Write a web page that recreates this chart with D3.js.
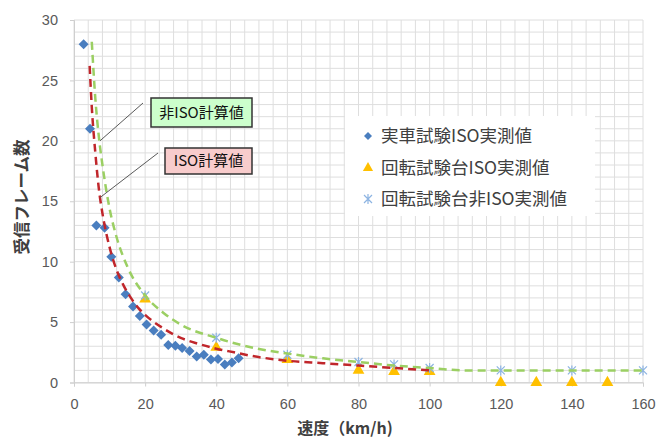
<!DOCTYPE html>
<html>
<head>
<meta charset="utf-8">
<script src="https://cdn.jsdelivr.net/npm/d3@7"></script>
<style>
  body { margin: 0; background: #fff; }
  svg text { font-family: "Noto Sans CJK JP", "Noto Sans", sans-serif; }
</style>
</head>
<body>
<div class="visualGraph"></div>
<script>
// 実車試験ISO実測値
const carSpeed = [2.7, 4.5, 6.3, 8.6, 10.5, 12.6, 14.5, 16.6, 18.5, 20.4, 22.4, 24.5, 26.5, 28.5, 30.4, 32.5, 34.5, 36.5, 38.5, 40.5, 42.4, 44.4, 46.3];
const carFrames = [28, 21, 13.0, 12.8, 10.4, 8.7, 7.3, 6.3, 5.5, 4.8, 4.3, 3.95, 3.1, 3.05, 2.85, 2.6, 2.15, 2.3, 1.9, 1.95, 1.5, 1.65, 2.0];

// 回転試験台ISO実測値
const rigIsoSpeed = [20, 40, 60, 80, 90, 100, 120, 130, 140, 150];
const rigIsoFrames = [6.9, 2.9, 1.9, 1.0, 0.9, 0.9, 0, 0, 0, 0];

// 回転試験台非ISO実測値
const rigNonIsoSpeed = [20, 40, 60, 80, 90, 100, 120, 140, 160];
const rigNonIsoFrames = [7.2, 3.7, 2.3, 1.7, 1.5, 1.2, 1.0, 1.0, 1.0];

// ISO計算値
const isoCalcSpeed = [4.4, 5, 6, 7, 8, 10, 12, 14, 16, 18, 20, 25, 30, 35, 40, 45, 50, 60, 70, 80, 90, 100];
const isoCalcFrames = [26.2, 22.8, 19, 16, 14, 11.2, 9.3, 8, 7, 6.2, 5.6, 4.5, 3.7, 3.2, 2.8, 2.5, 2.2, 1.8, 1.6, 1.4, 1.2, 1.0];

// 非ISO計算値
const nonIsoCalcSpeed = [5, 6, 7, 8, 10, 12, 15, 20, 25, 30, 40, 50, 60, 70, 80, 90, 100, 110, 120, 130, 140, 150, 160];
const nonIsoCalcFrames = [28.2, 23.5, 20.3, 18, 14.4, 12, 9.6, 7.2, 5.8, 4.8, 3.7, 2.9, 2.4, 2.0, 1.7, 1.4, 1.2, 1.0, 1.0, 1.0, 1.0, 1.0, 1.0];

const xTicks = [0, 20, 40, 60, 80, 100, 120, 140, 160];
const yTicks = [0, 5, 10, 15, 20, 25, 30];

const legendLabels = ["実車試験ISO実測値", "回転試験台ISO実測値", "回転試験台非ISO実測値"];

const width = 656, height = 439;

const svg = d3.select(".visualGraph")
    .append("svg")
    .attr("width", width)
    .attr("height", height)
    .attr("viewBox", [0, 0, width, height]);

svg.append("rect").attr("width", width).attr("height", height).attr("fill", "#fff");

const x = d3.scaleLinear().domain([0, 160]).range([74, 643]);
const y = d3.scaleLinear().domain([0, 30]).range([382.5, 20]);

// grid lines, every 4 km/h and every frame
const grid = svg.append("g");
grid.selectAll(".vminor")
    .data(d3.range(0, 161, 4))
    .join("line")
    .attr("x1", d => x(d)).attr("x2", d => x(d))
    .attr("y1", y(0)).attr("y2", y(30))
    .attr("stroke", "#dedede").attr("stroke-width", 1);
grid.selectAll(".hminor")
    .data(d3.range(0, 31, 1))
    .join("line")
    .attr("x1", x(0)).attr("x2", x(160))
    .attr("y1", d => y(d)).attr("y2", d => y(d))
    .attr("stroke", "#dedede").attr("stroke-width", 1);

// axes
const xAxis = svg.append("g")
    .attr("transform", `translate(0,${y(0)})`)
    .call(d3.axisBottom(x).tickValues(xTicks).tickSize(4).tickPadding(12));
const yAxis = svg.append("g")
    .attr("transform", `translate(${x(0)},0)`)
    .call(d3.axisLeft(y).tickValues(yTicks).tickSize(4).tickPadding(12));
[xAxis, yAxis].forEach(a => {
    a.select(".domain").attr("stroke", "#cfcfcf");
    a.selectAll(".tick line").attr("stroke", "#cfcfcf");
    a.selectAll("text")
        .attr("fill", "#595959")
        .style("font-family", "'Liberation Sans Narrow', 'Liberation Sans', sans-serif")
        .style("font-size", "14.5px");
});

// scatter series
const symbolPath = (type, size) => d3.symbol().type(type).size(size)();
const rhombus = r => `M0,${-r}L${r},0L0,${r}L${-r},0Z`;
const star = "M-4,-4L4,4M-4,4L4,-4M0,-5L0,5";

svg.append("g").selectAll("path")
    .data(d3.zip(carSpeed, carFrames))
    .join("path")
    .attr("d", rhombus(5))
    .attr("transform", d => `translate(${x(d[0])},${y(d[1])})`)
    .attr("fill", "#4a7ebf");

svg.append("g").selectAll("path")
    .data(d3.zip(rigIsoSpeed, rigIsoFrames))
    .join("path")
    .attr("d", symbolPath(d3.symbolTriangle, 60))
    .attr("transform", d => `translate(${x(d[0])},${y(d[1])})`)
    .attr("fill", "#ffc000");

svg.append("g").selectAll("path")
    .data(d3.zip(rigNonIsoSpeed, rigNonIsoFrames))
    .join("path")
    .attr("d", star)
    .attr("transform", d => `translate(${x(d[0])},${y(d[1])})`)
    .attr("fill", "none")
    .attr("stroke", "#8db4e2")
    .attr("stroke-width", 1.2);

// calculated curves
const line = d3.line().x(d => x(d[0])).y(d => y(d[1])).curve(d3.curveMonotoneX);

svg.append("path")
    .datum(d3.zip(nonIsoCalcSpeed, nonIsoCalcFrames))
    .attr("d", line)
    .attr("fill", "none")
    .attr("stroke", "#9bcf63")
    .attr("stroke-width", 2.5)
    .attr("stroke-dasharray", "8,5");

svg.append("path")
    .datum(d3.zip(isoCalcSpeed, isoCalcFrames))
    .attr("d", line)
    .attr("fill", "none")
    .attr("stroke", "#c0262b")
    .attr("stroke-width", 2.5)
    .attr("stroke-dasharray", "8,5");

// callouts
const callouts = [
    { label: "非ISO計算値", fill: "#ccffcc", box: [151, 98, 101, 29], from: [143, 103], to: [7.3, 20] },
    { label: "ISO計算値", fill: "#f8cccc", box: [165, 148, 87, 26], from: [158, 153], to: [7.3, 15.3] }
];
callouts.forEach(c => {
    svg.append("line")
        .attr("x1", c.from[0]).attr("y1", c.from[1])
        .attr("x2", x(c.to[0])).attr("y2", y(c.to[1]))
        .attr("stroke", "#595959").attr("stroke-width", 1);
    svg.append("rect")
        .attr("x", c.box[0]).attr("y", c.box[1])
        .attr("width", c.box[2]).attr("height", c.box[3])
        .attr("fill", c.fill)
        .attr("stroke", "#333").attr("stroke-width", 1.5);
    svg.append("text")
        .attr("x", c.box[0] + c.box[2] / 2)
        .attr("y", c.box[1] + c.box[3] / 2 + 5)
        .attr("text-anchor", "middle")
        .style("font-size", "15px")
        .attr("fill", "#111")
        .text(c.label);
});

// legend
const legend = svg.append("g");
legend.append("rect")
    .attr("x", 345).attr("y", 116).attr("width", 250).attr("height", 100)
    .attr("fill", "#fff");
const legendY = [136, 168, 199];
legend.append("path").attr("d", rhombus(4))
    .attr("transform", `translate(368,${legendY[0]})`).attr("fill", "#4a7ebf");
legend.append("path").attr("d", symbolPath(d3.symbolTriangle, 45))
    .attr("transform", `translate(368,${legendY[1]})`).attr("fill", "#ffc000");
legend.append("path").attr("d", star)
    .attr("transform", `translate(368,${legendY[2]})`)
    .attr("fill", "none").attr("stroke", "#8db4e2").attr("stroke-width", 1.2);
legend.selectAll("text")
    .data(legendLabels)
    .join("text")
    .attr("x", 381)
    .attr("y", (d, i) => legendY[i] + 6)
    .style("font-size", "17.5px")
    .attr("fill", "#404040")
    .text(d => d);

// axis titles
svg.append("text")
    .attr("x", 345).attr("y", 434)
    .attr("text-anchor", "middle")
    .style("font-size", "16px").style("font-weight", "bold")
    .attr("fill", "#404040")
    .text("速度（km/h)");

svg.append("text")
    .attr("transform", "translate(28,197) rotate(-90)")
    .attr("text-anchor", "middle")
    .style("font-size", "16.5px").style("font-weight", "bold")
    .attr("fill", "#404040")
    .text("受信フレーム数");
</script>
</body>
</html>
